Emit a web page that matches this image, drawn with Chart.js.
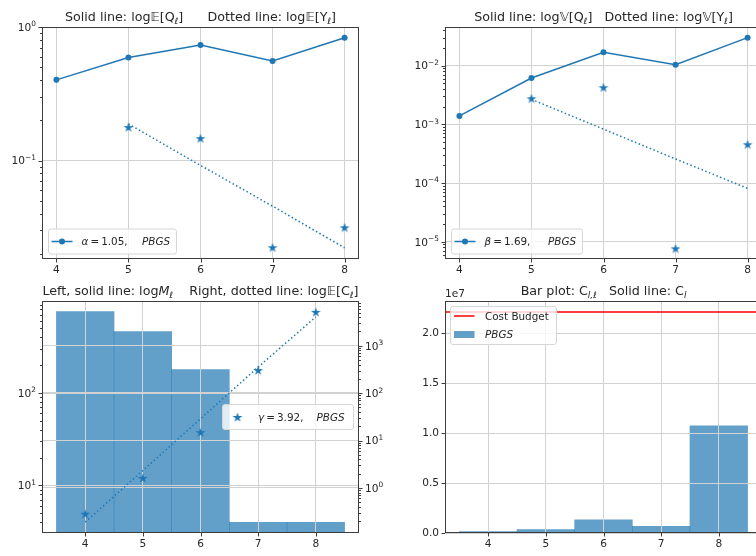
<!DOCTYPE html>
<html>
<head>
<meta charset="utf-8">
<script src="https://cdn.jsdelivr.net/npm/chart.js@4.4.0/dist/chart.umd.min.js"></script>
<style>
  html, body { margin: 0; padding: 0; background: #fff; width: 756px; height: 556px; overflow: hidden; }
  canvas { position: absolute; left: 0; top: 0; }
</style>
</head>
<body>
<canvas id="meanChart" width="800" height="556"></canvas>
<canvas id="varChart" width="800" height="556"></canvas>
<canvas id="samplesChart" width="800" height="556"></canvas>
<canvas id="costChart" width="800" height="556"></canvas>
<script>
// ---- data ----
const levels = [4, 5, 6, 7, 8];
const levelTicks = [4, 5, 6, 7, 8];

// E[Q_l] (solid) and E[Y_l] (stars) with the fitted decay (dotted)
const meanQ = [0.402, 0.59, 0.734, 0.557, 0.832];
const corrLevels = [5, 6, 7, 8];
const meanY = [0.178, 0.147, 0.0224, 0.0316];
const meanYFit = [0.188, 0.092, 0.0455, 0.0222];
const alphaRate = '1.05';

// V[Q_l] (solid) and V[Y_l] (stars) with the fitted decay (dotted)
const varQ = [1.39e-3, 6.16e-3, 0.0169, 0.0104, 0.030];
const varY = [2.78e-3, 4.28e-3, 7.7e-6, 4.57e-4];
const varYFit = [2.67e-3, 8.28e-4, 2.57e-4, 8.1e-5];
const betaRate = '1.69';

// M_l samples per level (bars), E[C_l] cost per sample (stars) and fit (dotted)
const samplesPerLevel = [753, 458, 178, 4, 4];
const costPerSample = [0.287, 1.63, 15.1, 307, 5200];
const costPerSampleFit = [0.19, 2.34, 28.8, 355, 4070];
const gammaRate = '3.92';

// total cost spent on each level, and the budget
const costPerLevel = [1.3e5, 3.3e5, 1.33e6, 6.7e5, 1.073e7];
const costBudget = 2.2125e7;
const costTicks = [0, 0.5e7, 1e7, 1.5e7, 2e7];

// ---- style ----
const BLUE = '#1f77b4';
const BAR = 'rgba(31,119,180,0.7)';
const GRID = '#d2d2d2';
const SPINE = '#3c3c3c';
const TEXT = '#262626';
const FONT = '"DejaVu Sans"';
const TICK_SIZE = 10.6;
const TITLE_SIZE = 12.7;
const LEGEND_SIZE = 10.4;

Chart.defaults.font.family = 'DejaVu Sans';
Chart.defaults.font.size = TICK_SIZE;
Chart.defaults.color = TEXT;
Chart.defaults.animation = false;

const CW = 800, CH = 556, YW = 42, XH = 20;

function padFor(area, rightW = 0) {
  return { left: area.l - YW, top: area.t, right: CW - area.r - rightW, bottom: CH - area.b - XH };
}

// filled five point star used as a marker
function starImage(color) {
  const c = document.createElement('canvas');
  c.width = c.height = 12;
  const g = c.getContext('2d');
  g.beginPath();
  for (let i = 0; i < 10; i++) {
    const r = i % 2 ? 2.0 : 5.2;
    const ang = -Math.PI / 2 + i * Math.PI / 5;
    const px = 6 + r * Math.cos(ang), py = 6.6 + r * Math.sin(ang);
    if (i) g.lineTo(px, py); else g.moveTo(px, py);
  }
  g.closePath();
  g.fillStyle = color;
  g.fill();
  return c;
}
const STAR = starImage(BLUE);

// major + minor ticks of a log axis, like matplotlib
function decadeTicks(s) {
  const ticks = [];
  const lo = Math.floor(Math.log10(s.min) + 1e-9), hi = Math.ceil(Math.log10(s.max) - 1e-9);
  for (let e = lo; e <= hi; e++) {
    for (let k = 1; k <= 9; k++) {
      const v = k * Math.pow(10, e);
      if (v >= s.min * (1 - 1e-9) && v <= s.max * (1 + 1e-9)) ticks.push({ value: v, major: k === 1 });
    }
  }
  s.ticks = ticks;
}

function levelAxis(min, max) {
  return {
    type: 'linear', min, max, offset: false,
    grid: { color: GRID, drawTicks: false, offset: false },
    border: { display: false },
    ticks: { autoSkip: false, maxRotation: 0, padding: 5, callback: v => String(v) },
    afterBuildTicks: s => { s.ticks = levelTicks.map(v => ({ value: v, major: true })); },
    afterFit: s => { s.height = XH; }
  };
}

// log axis; its "10^n" labels are drawn by the decor plugin
function logAxis(min, max, position = 'left') {
  return {
    type: 'logarithmic', position, min, max,
    grid: { color: c => (c.tick && c.tick.major ? GRID : 'rgba(0,0,0,0)'), drawTicks: false },
    border: { display: false },
    ticks: { display: false, autoSkip: false },
    afterBuildTicks: decadeTicks,
    afterFit: s => { s.width = YW; }
  };
}

// ---- text helpers ----
// flags: i = italic, s = subscript, p = superscript
function partFont(flag, size) {
  const small = flag.includes('s') || flag.includes('p');
  const sz = small ? size * 0.7 : size;
  return (flag.includes('i') ? 'italic ' : '') + sz + 'px ' + FONT;
}
function richWidth(ctx, parts, size) {
  let w = 0;
  for (const [t, f = ''] of parts) { ctx.font = partFont(f, size); w += ctx.measureText(t).width; }
  return w;
}
function drawRich(ctx, parts, x, y, size, align) {
  let cx = x;
  if (align === 'center') cx = x - richWidth(ctx, parts, size) / 2;
  if (align === 'right') cx = x - richWidth(ctx, parts, size);
  ctx.textBaseline = 'alphabetic';
  ctx.textAlign = 'left';
  ctx.fillStyle = TEXT;
  for (const [t, f = ''] of parts) {
    ctx.font = partFont(f, size);
    let dy = 0;
    if (f.includes('s')) dy = size * 0.25;
    if (f.includes('p')) dy = -size * 0.42;
    ctx.fillText(t, cx, y + dy);
    cx += ctx.measureText(t).width;
  }
}
function legendBox(ctx, x, y, w, h) {
  const r = 2.5;
  ctx.beginPath();
  ctx.moveTo(x + r, y);
  ctx.arcTo(x + w, y, x + w, y + h, r);
  ctx.arcTo(x + w, y + h, x, y + h, r);
  ctx.arcTo(x, y + h, x, y, r);
  ctx.arcTo(x, y, x + w, y, r);
  ctx.closePath();
  ctx.fillStyle = 'rgba(255,255,255,0.8)';
  ctx.fill();
  ctx.strokeStyle = '#d6d6d6';
  ctx.lineWidth = 1;
  ctx.stroke();
}

// frame, outward tick marks, log labels, titles and legends drawn on top of each panel
function decor(title, legend, extra) {
  return {
    id: 'decor',
    afterDatasetDraw(chart, args) {
      // grid sits above the bars but below the lines
      if (args.meta.type === 'bar') {
        Object.values(chart.scales).forEach(s => s.drawGrid(chart.chartArea));
      }
    },
    afterDraw(chart) {
      const ctx = chart.ctx, a = chart.chartArea;
      ctx.save();
      ctx.strokeStyle = SPINE;
      ctx.lineWidth = 1;
      for (const s of Object.values(chart.scales)) {
        s.ticks.forEach(t => {
          const p = Math.round(s.getPixelForValue(t.value)) + 0.5;
          const len = t.major ? 3.5 : 2;
          ctx.beginPath();
          if (s.isHorizontal()) {
            ctx.moveTo(p, a.bottom); ctx.lineTo(p, a.bottom + len);
          } else if (s.position === 'left') {
            ctx.moveTo(a.left, p); ctx.lineTo(a.left - len, p);
          } else {
            ctx.moveTo(a.right, p); ctx.lineTo(a.right + len, p);
          }
          ctx.stroke();
          if (s.type === 'logarithmic' && t.major) {
            const e = Math.round(Math.log10(t.value));
            const parts = [['10'], [String(e).replace('-', '\u2212'), 'p']];
            const base = s.getPixelForValue(t.value) + TICK_SIZE * 0.36;
            if (s.position === 'left') drawRich(ctx, parts, a.left - 6, base, TICK_SIZE, 'right');
            else drawRich(ctx, parts, a.right + 6, base, TICK_SIZE);
          }
        });
      }
      ctx.strokeRect(Math.round(a.left) + 0.5, Math.round(a.top) + 0.5,
        Math.round(a.right - a.left) - 1, Math.round(a.bottom - a.top) - 1);
      drawRich(ctx, title, (a.left + a.right) / 2, a.top - 6, TITLE_SIZE, 'center');
      legend(chart);
      if (extra) extra(chart);
      ctx.restore();
    }
  };
}

function lineLegend(sym, rate, w) {
  return chart => {
    const ctx = chart.ctx, a = chart.chartArea;
    const x = a.left + 6.5, y = a.bottom - 30, h = 25, cy = y + h / 2;
    legendBox(ctx, x, y, w, h);
    ctx.strokeStyle = BLUE; ctx.lineWidth = 1.5;
    ctx.beginPath(); ctx.moveTo(x + 3, cy); ctx.lineTo(x + 24, cy); ctx.stroke();
    ctx.fillStyle = BLUE;
    ctx.beginPath(); ctx.arc(x + 13.5, cy, 3, 0, Math.PI * 2); ctx.fill();
    drawRich(ctx, [[sym, 'i'], ['\u2009=\u2009' + rate + ',']], x + 33, cy + 3.7, LEGEND_SIZE);
    drawRich(ctx, [['PBGS', 'i']], x + w - 34.5, cy + 3.7, LEGEND_SIZE);
  };
}

function pts(xs, ys) { return xs.map((x, i) => ({ x, y: ys[i] })); }

const noPlugins = { legend: { display: false }, tooltip: { enabled: false } };

// ---- top left: means ----
const areaMean = { l: 42, t: 27, r: 359, b: 259 };
new Chart(document.getElementById('meanChart'), {
  type: 'line',
  data: {
    datasets: [
      { data: pts(levels, meanQ), borderColor: BLUE, backgroundColor: BLUE, borderWidth: 1.5,
        pointRadius: 3, pointBorderWidth: 0, tension: 0 },
      { data: pts(corrLevels, meanYFit), borderColor: BLUE, borderWidth: 1.5, borderDash: [1.5, 2.5],
        pointRadius: 0, tension: 0 },
      { data: pts(corrLevels, meanY), showLine: false, pointStyle: STAR, pointRadius: 5 }
    ]
  },
  options: {
    responsive: false, events: [],
    layout: { padding: padFor(areaMean), autoPadding: false },
    scales: { x: levelAxis(3.8, 8.2), y: logAxis(0.0183, 1.0) },
    plugins: noPlugins
  },
  plugins: [decor(
    [['Solid line: log'], ['𝔼'], ['[Q'], ['ℓ', 's'], [']      Dotted line: log'], ['𝔼'], ['[Y'], ['ℓ', 's'], [']']],
    lineLegend('α', alphaRate, 128))]
});

// ---- top right: variances ----
const areaVar = { l: 445, t: 27, r: 762, b: 259 };
new Chart(document.getElementById('varChart'), {
  type: 'line',
  data: {
    datasets: [
      { data: pts(levels, varQ), borderColor: BLUE, backgroundColor: BLUE, borderWidth: 1.5,
        pointRadius: 3, pointBorderWidth: 0, tension: 0 },
      { data: pts(corrLevels, varYFit), borderColor: BLUE, borderWidth: 1.5, borderDash: [1.5, 2.5],
        pointRadius: 0, tension: 0 },
      { data: pts(corrLevels, varY), showLine: false, pointStyle: STAR, pointRadius: 5 }
    ]
  },
  options: {
    responsive: false, events: [],
    layout: { padding: padFor(areaVar), autoPadding: false },
    scales: { x: levelAxis(3.8, 8.2), y: logAxis(5.07e-6, 0.0456) },
    plugins: noPlugins
  },
  plugins: [decor(
    [['Solid line: log'], ['𝕍'], ['[Q'], ['ℓ', 's'], [']   Dotted line: log'], ['𝕍'], ['[Y'], ['ℓ', 's'], [']']],
    lineLegend('β', betaRate, 131))]
});

// ---- bottom left: samples per level and cost per sample ----
const areaSamples = { l: 42, t: 301, r: 359, b: 533 };
new Chart(document.getElementById('samplesChart'), {
  type: 'bar',
  data: {
    datasets: [
      { type: 'bar', data: pts(levels, samplesPerLevel), backgroundColor: BAR, borderWidth: 0,
        barPercentage: 1, categoryPercentage: 1, yAxisID: 'y', order: 2 },
      { type: 'line', data: pts(levels, costPerSampleFit), borderColor: BLUE, borderWidth: 1.5,
        borderDash: [1.5, 2.5], pointRadius: 0, tension: 0, yAxisID: 'y2', order: 1 },
      { type: 'line', data: pts(levels, costPerSample), showLine: false, pointStyle: STAR,
        pointRadius: 5, yAxisID: 'y2', order: 0 }
    ]
  },
  options: {
    responsive: false, events: [],
    layout: { padding: padFor(areaSamples, YW), autoPadding: false },
    scales: {
      x: levelAxis(3.25, 8.75),
      y: logAxis(3.06, 982),
      y2: logAxis(0.112, 8800, 'right')
    },
    plugins: noPlugins
  },
  plugins: [decor(
    [['Left, solid line: log'], ['M', 'i'], ['ℓ', 's'], ['    Right, dotted line: log'], ['𝔼'], ['[C'], ['ℓ', 's'], [']']],
    chart => {
      const ctx = chart.ctx, a = chart.chartArea;
      const w = 131, h = 25, x = a.right - 5.5 - w, y = (a.top + a.bottom) / 2 - h / 2, cy = y + h / 2;
      legendBox(ctx, x, y, w, h);
      ctx.drawImage(STAR, x + 15 - 6, cy - 6);
      drawRich(ctx, [['γ', 'i'], ['\u2009=\u2009' + gammaRate + ',']], x + 35.5, cy + 3.7, LEGEND_SIZE);
      drawRich(ctx, [['PBGS', 'i']], x + w - 37, cy + 3.7, LEGEND_SIZE);
    })]
});

// ---- bottom right: cost per level and budget ----
const areaCost = { l: 445, t: 301, r: 762, b: 533 };
new Chart(document.getElementById('costChart'), {
  type: 'bar',
  data: {
    datasets: [
      { type: 'bar', data: pts(levels, costPerLevel), backgroundColor: BAR, borderWidth: 0,
        barPercentage: 1, categoryPercentage: 1, order: 2 },
      { type: 'line', data: [{ x: 3.25, y: costBudget }, { x: 8.75, y: costBudget }],
        borderColor: '#ff0000', borderWidth: 1.5, pointRadius: 0, order: 1 }
    ]
  },
  options: {
    responsive: false, events: [],
    layout: { padding: padFor(areaCost), autoPadding: false },
    scales: {
      x: levelAxis(3.25, 8.75),
      y: {
        type: 'linear', min: 0, max: costBudget * 1.05,
        grid: { color: GRID, drawTicks: false },
        border: { display: false },
        ticks: { autoSkip: false, padding: 6, callback: v => (v / 1e7).toFixed(1) },
        afterBuildTicks: s => { s.ticks = costTicks.map(v => ({ value: v, major: true })); },
        afterFit: s => { s.width = YW; }
      }
    },
    plugins: noPlugins
  },
  plugins: [decor(
    [['Bar plot: C'], ['l,ℓ', 'si'], ['   Solid line: C'], ['l', 'si']],
    chart => {
      const ctx = chart.ctx, a = chart.chartArea;
      const x = a.left + 5.5, y = a.top + 5.5, w = 106, h = 38;
      legendBox(ctx, x, y, w, h);
      ctx.strokeStyle = '#ff0000'; ctx.lineWidth = 1.5;
      ctx.beginPath(); ctx.moveTo(x + 3.5, y + 9.5); ctx.lineTo(x + 24, y + 9.5); ctx.stroke();
      drawRich(ctx, [['Cost Budget']], x + 34.5, y + 13.2, LEGEND_SIZE);
      ctx.fillStyle = BAR;
      ctx.fillRect(x + 3.5, y + 24.5, 20.5, 7);
      drawRich(ctx, [['PBGS', 'i']], x + 34.5, y + 31.7, LEGEND_SIZE);
    },
    chart => {
      const ctx = chart.ctx, a = chart.chartArea;
      drawRich(ctx, [['1e7']], a.left, a.top - 4, TICK_SIZE);
    })]
});
</script>
</body>
</html>
